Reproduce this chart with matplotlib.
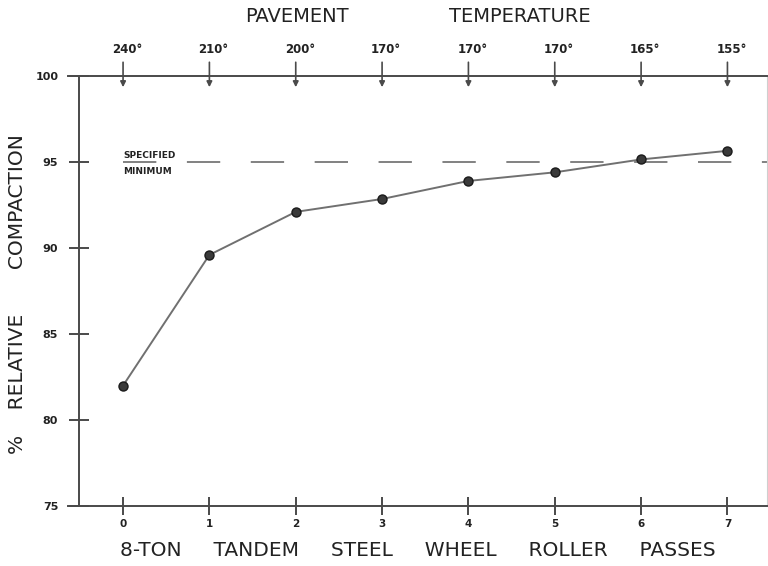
import matplotlib.pyplot as plt

passes = [0, 1, 2, 3, 4, 5, 6, 7]
compaction = [82.0, 89.6, 92.1, 92.85, 93.9, 94.4, 95.15, 95.65]
temps = ['240°', '210°', '200°', '170°', '170°', '170°', '165°', '155°']
spec_min = 95

plt.rcParams['lines.scale_dashes'] = False
ink = '#4a4a4a'

fig = plt.figure(figsize=(7.68, 5.66), dpi=100)
ax = fig.add_axes([0.1029, 0.106, 0.896, 0.7597])
ax.set_xlim(-0.51, 7.46)
ax.set_ylim(75, 100)

# frame: heavy left/bottom/top, faint right edge
for side in ['left', 'bottom', 'top']:
    ax.spines[side].set_color(ink)
    ax.spines[side].set_linewidth(1.4)
ax.spines['right'].set_color('#cfcfcf')
ax.spines['right'].set_linewidth(0.8)
# top and bottom lines run a little past the left axis
ax.plot([-0.64, -0.51], [100, 100], color=ink, lw=1.4, clip_on=False)
ax.plot([-0.64, -0.51], [75, 75], color=ink, lw=1.4, clip_on=False)

ax.set_xticks(passes)
ax.set_yticks([75, 80, 85, 90, 95, 100])
ax.tick_params(axis='x', direction='inout', length=13, width=1.4, color=ink,
               pad=3, labelsize=7.5, labelcolor='#222222')
ax.tick_params(axis='y', direction='inout', length=14, width=1.4, color=ink,
               pad=8, labelsize=8, labelcolor='#222222')
for lab in ax.get_xticklabels() + ax.get_yticklabels():
    lab.set_fontweight('bold')

# specified minimum line
ax.plot([0, 7.46], [spec_min, spec_min], color='#777777', lw=1.3,
        linestyle=(0, (24, 22)), zorder=1)
ax.text(0.0, 95.4, 'SPECIFIED', fontsize=6.5, fontweight='bold',
        color='#222222', ha='left', va='center',
        bbox=dict(facecolor='white', edgecolor='none', pad=0.5))
ax.text(0.0, 94.45, 'MINIMUM', fontsize=6.5, fontweight='bold',
        color='#222222', ha='left', va='center')

# compaction curve
ax.plot(passes, compaction, color='#707070', lw=1.4, marker='o',
        markersize=6.5, markerfacecolor='#3a3a3a', markeredgecolor='#1a1a1a',
        markeredgewidth=1.0, zorder=3)

# pavement temperature arrows along the top
for x, t in zip(passes, temps):
    ax.annotate('', xy=(x, 99.35), xytext=(x, 100.8),
                arrowprops=dict(arrowstyle='-|>', color=ink, lw=1.2,
                                mutation_scale=8, shrinkA=0, shrinkB=0),
                annotation_clip=False)
    ax.annotate(t, xy=(x, 100), xytext=(3, 19), textcoords='offset points',
                ha='center', va='center', fontsize=8.5, fontweight='bold',
                color='#222222', annotation_clip=False)

fig.text(297 / 768, 1 - 16 / 566, 'PAVEMENT', fontsize=14, color='#222222',
         ha='center', va='center')
fig.text(520 / 768, 1 - 16 / 566, 'TEMPERATURE', fontsize=14, color='#222222',
         ha='center', va='center')

fig.text(418 / 768, 1 - 551 / 566,
         '8-TON     TANDEM     STEEL     WHEEL     ROLLER     PASSES',
         fontsize=14.5, color='#222222', ha='center', va='center')
fig.text(18 / 768, 1 - 294 / 566,
         '%    RELATIVE       COMPACTION',
         fontsize=14.5, color='#222222', ha='center', va='center',
         rotation=90)

fig.savefig('out.png', dpi=100)
